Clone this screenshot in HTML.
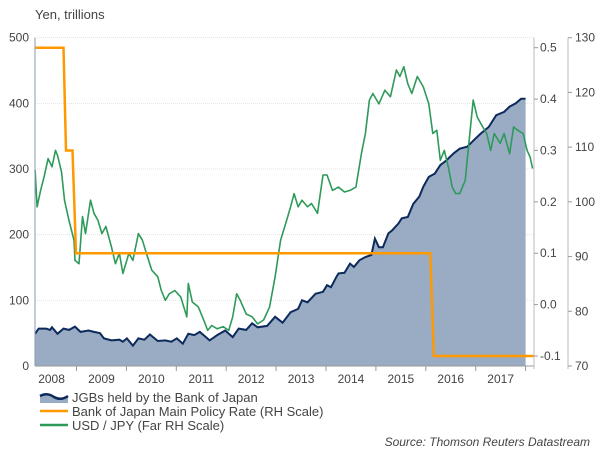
<!DOCTYPE html>
<html><head><meta charset="utf-8"><style>
body{margin:0;background:#fff;font-family:"Liberation Sans",Arial,sans-serif;}
svg text{font-family:"Liberation Sans",Arial,sans-serif;fill:#444;}
</style></head><body>
<svg id="chart" width="600" height="450" viewBox="0 0 600 450">
<text x="35" y="19" font-size="13">Yen, trillions</text>
<g id="grid"></g><g id="series"></g><g id="axes"></g>
<g>
 <g>
  <path d="M40,403 L40,396 Q47,392 54,397 Q61,401 68,396 L68,403 Z" fill="#9aabc4"/>
  <path d="M40,396 Q47,392 54,397 Q61,401 68,396" stroke="#0d2a5c" stroke-width="2.5" fill="none"/>
  <text x="72" y="402" font-size="13">JGBs held by the Bank of Japan</text></g>
 <g>
  <line x1="40" y1="411" x2="68" y2="411" stroke="#ff9900" stroke-width="2.5"/>
  <text x="72" y="416" font-size="13">Bank of Japan Main Policy Rate (RH Scale)</text></g>
 <g>
  <line x1="40" y1="425" x2="68" y2="425" stroke="#2e9a5a" stroke-width="2.5"/>
  <text x="72" y="430" font-size="13">USD / JPY (Far RH Scale)</text></g>
</g>
<text x="590" y="446" font-size="12" font-style="italic" text-anchor="end">Source: Thomson Reuters Datastream</text>
</svg>
<script>
const jgbDates=[2008.17,2008.24,2008.39,2008.47,2008.51,2008.62,2008.74,2008.85,2008.97,2009.08,2009.24,2009.35,2009.47,2009.55,2009.70,2009.86,2009.93,2010.01,2010.13,2010.24,2010.36,2010.47,2010.63,2010.78,2010.90,2011.01,2011.13,2011.24,2011.36,2011.47,2011.67,2011.82,2011.98,2012.13,2012.25,2012.40,2012.52,2012.63,2012.82,2012.98,2013.13,2013.29,2013.44,2013.52,2013.63,2013.79,2013.94,2014.02,2014.10,2014.21,2014.25,2014.37,2014.48,2014.56,2014.67,2014.79,2014.91,2014.98,2015.06,2015.14,2015.25,2015.33,2015.45,2015.52,2015.64,2015.75,2015.87,2015.95,2016.06,2016.18,2016.29,2016.41,2016.56,2016.68,2016.83,2016.99,2017.10,2017.26,2017.41,2017.57,2017.68,2017.80,2017.91,2018.0];
const jgbValues=[49,57,57,55,59,49,57,55,60,52,54,52,50,42,39,40,37,42,31,42,40,48,38,39,37,42,34,49,47,52,39,47,54,44,57,55,65,59,61,75,66,82,87,100,97,110,113,123,120,136,141,142,156,151,161,166,169,194,181,181,202,207,217,225,227,247,258,273,288,293,306,313,324,331,334,346,354,364,382,387,395,400,407,407];
const rateDates=[2008.17,2008.74,2008.79,2008.92,2008.99,2016.09,2016.16,2018.17];
const rateValues=[0.5,0.5,0.3,0.3,0.1,0.1,-0.1,-0.1];
const fxDates=[2008.17,2008.21,2008.28,2008.35,2008.43,2008.51,2008.58,2008.62,2008.70,2008.76,2008.85,2008.95,2008.97,2009.05,2009.12,2009.18,2009.28,2009.35,2009.43,2009.51,2009.59,2009.70,2009.78,2009.86,2009.93,2010.05,2010.13,2010.24,2010.32,2010.40,2010.51,2010.63,2010.70,2010.78,2010.86,2010.97,2011.09,2011.21,2011.24,2011.32,2011.44,2011.55,2011.63,2011.71,2011.82,2011.94,2012.05,2012.13,2012.21,2012.28,2012.40,2012.52,2012.63,2012.75,2012.87,2012.98,2013.09,2013.21,2013.29,2013.36,2013.44,2013.52,2013.63,2013.71,2013.83,2013.94,2014.02,2014.13,2014.25,2014.37,2014.48,2014.60,2014.71,2014.79,2014.87,2014.94,2015.06,2015.18,2015.29,2015.41,2015.48,2015.56,2015.64,2015.72,2015.83,2015.95,2016.06,2016.14,2016.22,2016.29,2016.37,2016.45,2016.53,2016.60,2016.68,2016.79,2016.87,2016.95,2017.03,2017.14,2017.22,2017.30,2017.37,2017.49,2017.57,2017.68,2017.76,2017.84,2017.95,2018.03,2018.09,2018.14];
const fxValues=[105.8,99.1,102.1,104.6,107.9,106.4,109.4,108.5,105.5,100.3,96.6,93.0,89.3,88.7,97.3,94.2,100.3,97.9,96.6,94.2,95.5,91.8,88.7,90.6,86.9,90.6,89.3,94.2,93.0,90.6,87.5,86.3,83.8,82.0,83.2,83.8,82.6,79.0,85.1,81.7,80.8,78.4,76.5,77.4,76.8,77.2,76.5,79.0,83.2,82.0,79.5,79.0,77.7,78.4,80.8,86.3,93.0,96.6,99.1,101.5,99.1,100.3,99.1,99.7,97.9,104.9,104.9,102.1,102.7,101.8,102.1,102.7,108.8,112.5,118.6,119.8,117.9,120.4,119.2,124.1,122.9,124.7,121.6,119.8,122.9,121.0,117.9,112.5,113.1,107.6,109.4,106.4,102.7,101.5,101.5,103.9,111.3,118.6,115.5,113.7,112.5,109.4,112.5,110.7,112.5,108.8,113.7,113.1,112.5,109.4,108.2,106.1];
const leftTicks=[0,100,200,300,400,500];
const rateTicks=[-0.1,0.0,0.1,0.2,0.3,0.4,0.5];
const fxTicks=[70,80,90,100,110,120,130];
const yearLabels=[2008,2009,2010,2011,2012,2013,2014,2015,2016,2017];

const NS='http://www.w3.org/2000/svg';
const X0=35,X1=534,Y0=366,Y1=37.7;
const xs=t=>76.5+(t-2009)*49.9;
const yL=v=>Y0+(Y1-Y0)*v/500;
const yR=v=>356+(47.7-356)*(v+0.1)/0.6;
const yF=v=>Y0+(Y1-Y0)*(v-70)/60;
function mk(tag,attrs,parent){const e=document.createElementNS(NS,tag);for(const k in attrs)e.setAttribute(k,attrs[k]);parent.appendChild(e);return e;}
const grid=document.getElementById('grid'),ser=document.getElementById('series'),ax=document.getElementById('axes');
leftTicks.forEach(v=>{if(v>0){const l=mk('line',{x1:X0,x2:X1,y1:yL(v),y2:yL(v),stroke:'#ddd','stroke-width':0.8,'stroke-dasharray':'1,1'},grid);

}
const t=mk('text',{x:X0-6,y:yL(v)+4,'font-size':12,'text-anchor':'end'},ax);t.textContent=v;

});
// area
let d='M'+xs(jgbDates[0])+','+Y0;jgbDates.forEach((t,i)=>d+=' L'+xs(t)+','+yL(jgbValues[i]));d+=' L'+xs(jgbDates[jgbDates.length-1])+','+Y0+' Z';
const area=mk('path',{d:d,fill:'#9aabc4'},ser);


const ln=(dates,vals,f)=>dates.map((t,i)=>(i?'L':'M')+xs(t).toFixed(1)+','+f(vals[i]).toFixed(1)).join(' ');
const jl=mk('path',{d:ln(jgbDates,jgbValues,yL),stroke:'#0d2a5c','stroke-width':2,fill:'none'},ser);


const fl=mk('path',{d:ln(fxDates,fxValues,yF),stroke:'#2e9a5a','stroke-width':1.6,fill:'none','stroke-linejoin':'round'},ser);


const rl=mk('path',{d:ln(rateDates,rateValues,yR),stroke:'#ff9900','stroke-width':2.5,fill:'none'},ser);


// axes
mk('line',{x1:X0,x2:X0,y1:Y1,y2:Y0,stroke:'#8a9ab5','stroke-width':1},ax);
mk('line',{x1:X0,x2:X1,y1:Y0,y2:Y0,stroke:'#999','stroke-width':1},ax);
mk('line',{x1:X1,x2:X1,y1:Y1,y2:Y0+3,stroke:'#bbb','stroke-width':1},ax);
mk('line',{x1:568,x2:568,y1:Y1,y2:Y0+3,stroke:'#bbb','stroke-width':1},ax);
rateTicks.forEach(v=>{mk('line',{x1:X1,x2:X1+4,y1:yR(v),y2:yR(v),stroke:'#999'},ax);
const t=mk('text',{x:540,y:yR(v)+4,'font-size':12},ax);t.textContent=v.toFixed(1);

});
fxTicks.forEach(v=>{mk('line',{x1:568,x2:572,y1:yF(v),y2:yF(v),stroke:'#999'},ax);
const t=mk('text',{x:575,y:yF(v)+4,'font-size':12},ax);t.textContent=v;

});
yearLabels.forEach(y=>{const xt=xs(y+1);mk('line',{x1:xt,x2:xt,y1:Y0,y2:Y0+5,stroke:'#999'},ax);
const t=mk('text',{x:xs(y+0.5),y:Y0+17,'font-size':12,'text-anchor':'middle'},ax);t.textContent=y;

});
</script>
</body></html>
